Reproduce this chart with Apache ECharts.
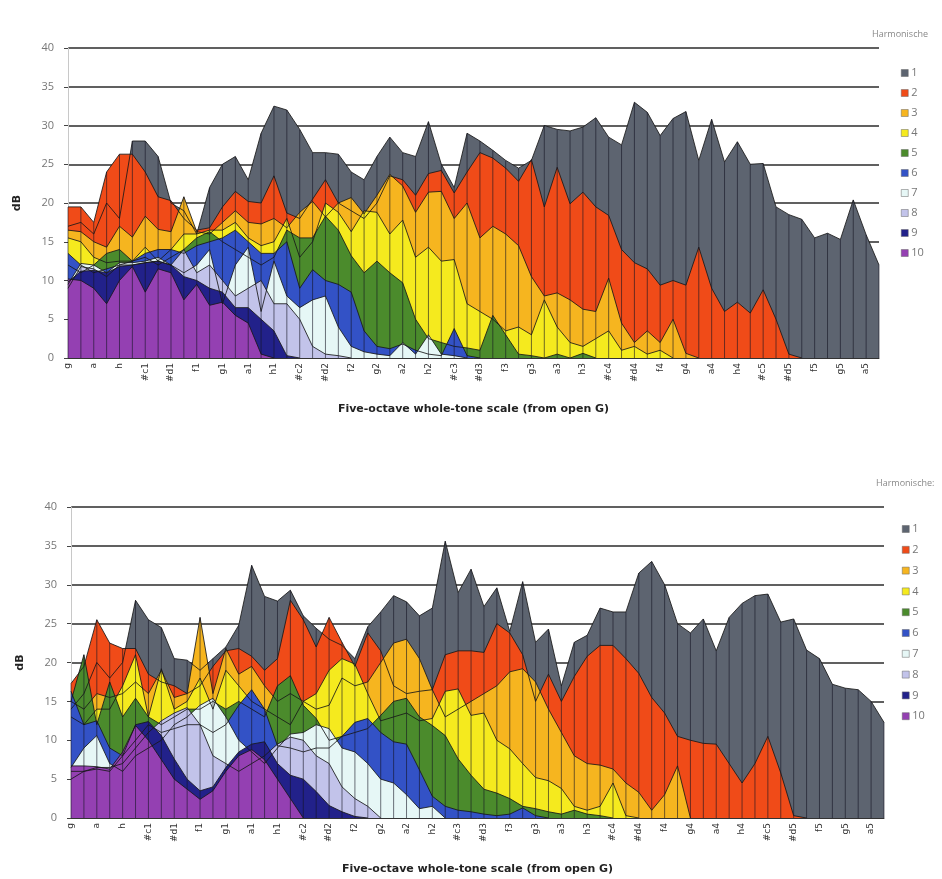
<!DOCTYPE html>
<html>
<head>
<meta charset="utf-8">
<title>Harmonische</title>
<script src="https://cdn.jsdelivr.net/npm/echarts@6/dist/echarts.min.js"></script>
<style>
    html, body {margin: 0; padding: 0; background: #fff;}
    #chart {width: 942px; height: 879px;}
</style>
</head>
<body>
<div id="chart"></div>
<script>
    // chromatic steps from open G, only the whole tones get a label
    var notes = [
        'g', '#g', 'a', '#a', 'h', 'c1', '#c1', 'd1', '#d1', 'e1', 'f1', '#f1',
        'g1', '#g1', 'a1', '#a1', 'h1', 'c2', '#c2', 'd2', '#d2', 'e2', 'f2', '#f2',
        'g2', '#g2', 'a2', '#a2', 'h2', 'c3', '#c3', 'd3', '#d3', 'e3', 'f3', '#f3',
        'g3', '#g3', 'a3', '#a3', 'h3', 'c4', '#c4', 'd4', '#d4', 'e4', 'f4', '#f4',
        'g4', '#g4', 'a4', '#a4', 'h4', 'c5', '#c5', 'd5', '#d5', 'e5', 'f5', '#f5',
        'g5', '#g5', 'a5', '#a5'
    ];
    var harmonics = ['1', '2', '3', '4', '5', '6', '7', '8', '9', '10'];
    var yTicks = [0, 5, 10, 15, 20, 25, 30, 35, 40];
    var colors = ['#5d6470', '#f04b18', '#f6b51f', '#f5ea1e', '#4b8b2c',
        '#3352c6', '#e6f7f6', '#c2c3ea', '#22218a', '#9440b2'];

    // upper chart (dB per harmonic)
    var topH1 = [17, 17.5, 16, 20, 18, 28, 28, 26, 20, 19, 16, 22, 25, 26, 23, 29, 32.5, 32, 29.5, 26.5,
        26.5, 26.3, 24, 23, 26, 28.5, 26.5, 26, 30.5, 25, 22, 29, 28, 26.8, 25.5, 24.5, 25.5, 30, 29.5, 29.3,
        29.8, 31, 28.5, 27.5, 33, 31.7, 28.7, 30.9, 31.8, 25.5, 30.8, 25.3, 27.9, 25, 25.1, 19.5, 18.5, 17.9, 15.5, 16.1,
        15.3, 20.4, 15.9, 12];
    var topH2 = [19.5, 19.5, 17.5, 24, 26.3, 26.3, 24, 20.8, 20.3, 18, 16.5, 16.8, 19.5, 21.5, 20.2, 20, 23.5, 18.7, 18, 20.5,
        23, 20, 19, 18, 20, 23.5, 23, 21, 23.8, 24.2, 21.3, 24, 26.5, 25.8, 24.5, 22.8, 25.6, 19.5, 24.6, 19.9,
        21.4, 19.5, 18.4, 14, 12.3, 11.5, 9.4, 10, 9.4, 14.3, 9, 6, 7.2, 5.8, 8.8, 5, 0.5, 0];
    var topH3 = [16.5, 16.3, 15, 14.3, 17, 15.6, 18.3, 16.6, 16.3, 20.8, 16.3, 16, 17.5, 19, 17.5, 17.3, 18, 16.8, 18.8, 20.2,
        18.2, 20, 20.7, 18.6, 21, 23.7, 22.2, 18.8, 21.4, 21.5, 18, 20, 15.5, 17, 16, 14.5, 10.5, 8, 8.4, 7.5,
        6.3, 6, 10.3, 4.5, 2, 3.5, 2, 5, 0.6, 0];
    var topH4 = [15.5, 15, 13, 12.3, 12.5, 12.5, 14.3, 12.5, 14, 16, 16, 16.5, 16.5, 17.5, 15.5, 14.5, 15, 18, 13, 15,
        20, 18.8, 16.3, 19, 18.8, 16, 17.8, 13, 14.3, 12.5, 12.7, 7, 6, 5, 3.5, 4, 3, 7.5, 4, 2,
        1.5, 2.5, 3.5, 1, 1.5, 0.5, 1, 0];
    var topH5 = [12, 11, 12, 13.5, 14, 12.5, 13, 12, 13, 14, 15.5, 16.3, 15, 14, 13, 12, 13, 16.5, 15.5, 15.5,
        18.3, 16.5, 13.2, 11, 12.5, 11, 9.7, 5, 2.5, 2, 1.5, 1.3, 1, 5.5, 3, 0.5, 0.3, 0, 0.5, 0,
        0.6, 0];
    var topH6 = [13.5, 12, 11, 11.5, 12, 12.5, 13.5, 14, 14, 13.5, 14.5, 15, 15.5, 16.5, 15, 13.5, 13.5, 15, 9, 11.4,
        10, 9.5, 8.5, 3.5, 1.5, 1.2, 1.8, 1, 0.5, 0.3, 3.8, 0.3, 0];
    var topH7 = [9.5, 12.2, 12, 11, 12.3, 12.3, 12.5, 13, 12, 11, 12, 14, 7, 12, 14.3, 6, 12.5, 8, 6.5, 7.5,
        8, 4, 1.5, 0.8, 0.5, 0.3, 2, 0.5, 3, 0.5, 0.3, 0];
    var topH8 = [9, 11.8, 11.5, 10.5, 12, 12, 12.3, 12.5, 12, 14, 11, 12, 10, 8, 9, 10, 7, 7, 5, 1.5,
        0.5, 0.3, 0];
    var topH9 = [9.8, 11.2, 11.3, 11, 11.8, 12, 12.3, 12.5, 12, 10.5, 10, 9, 8.5, 6.5, 6.5, 5, 3.5, 0.3, 0];
    var topH10 = [10.2, 10, 9, 7, 10, 11.8, 8.5, 11.5, 11, 7.5, 9.5, 6.8, 7.2, 5.5, 4.5, 0.5, 0];

    // lower chart
    var botH1 = [14, 16, 20, 18, 20, 28, 25.5, 24.5, 20.5, 20.3, 19, 20.5, 22, 24.8, 32.5, 28.5, 27.9, 29.3, 26, 24.4,
        23, 22.2, 20.5, 24.6, 26.5, 28.6, 27.8, 26, 27, 35.6, 29, 32, 27.2, 29.6, 24, 30.4, 22.6, 24.3, 17, 22.6,
        23.5, 27, 26.5, 26.5, 31.5, 33, 30, 25, 23.8, 25.6, 21.5, 25.8, 27.6, 28.6, 28.8, 25.2, 25.6, 21.6, 20.5, 17.2,
        16.7, 16.5, 15, 12.3];
    var botH2 = [17.3, 19.5, 25.5, 22.5, 21.8, 21.8, 18.5, 17.5, 17, 16, 17, 19.5, 21.5, 21.8, 20.8, 19, 20.5, 28, 25.5, 22,
        25.8, 22.6, 19.5, 23.8, 21.5, 17, 16, 16.3, 16.5, 21, 21.5, 21.5, 21.3, 25, 23.8, 21, 15, 18.5, 15, 18.2,
        20.8, 22.2, 22.2, 20.5, 18.6, 15.5, 13.5, 10.5, 10, 9.6, 9.5, 7, 4.5, 7, 10.5, 5.8, 0.3, 0];
    var botH3 = [15, 14, 16, 15.5, 16, 17.5, 16, 19, 15.5, 16, 25.8, 16, 21.8, 18.5, 19.5, 17, 15, 16, 15, 14,
        14.5, 18, 17, 17.5, 20, 22.5, 23, 20.5, 16.5, 13, 14, 15, 16, 17, 18.8, 19.2, 17.5, 14, 11, 8,
        7, 6.8, 6.3, 4.5, 3.3, 1, 3, 6.7, 0];
    var botH4 = [13, 12, 14, 14, 17, 21, 13, 19.2, 14, 15, 18, 14, 19, 17, 15, 14, 13, 12, 15, 16,
        19, 20.5, 19.8, 16, 12.5, 13, 13.5, 12.5, 12.8, 16.3, 16.6, 13.2, 13.5, 10, 8.9, 7, 5.2, 4.8, 3.8, 1.5,
        1, 1.5, 4.5, 0.3, 0];
    var botH5 = [15, 21, 12, 17.5, 13, 15.4, 13, 12, 13, 14, 14, 15, 14, 15, 14, 13, 17, 18.3, 14.5, 12.8,
        10, 10.5, 11, 11.5, 13.2, 15, 15.4, 13, 11.9, 10.6, 7.6, 5.5, 3.7, 3.2, 2.5, 1.5, 1.2, 0.8, 0.5, 1,
        0.5, 0.3, 0];
    var botH6 = [16.3, 12, 12.5, 9, 8, 10, 12, 11, 11.5, 12, 12, 11, 12, 14.5, 16.5, 14, 9.3, 9, 8.5, 9,
        9, 10.5, 12.3, 12.8, 11, 9.8, 9.5, 6.2, 2.8, 1.5, 1, 0.8, 0.5, 0.3, 0.5, 1.3, 0.3, 0];
    var botH7 = [6.5, 9, 10.6, 7, 6, 8, 9, 10, 12, 13, 14.5, 15.4, 13, 10, 8.5, 7, 9, 10.8, 11, 12,
        11.5, 9, 8.5, 7, 5, 4.5, 3, 1.2, 1.5, 0];
    var botH8 = [6, 6, 6.5, 6.5, 7, 9, 11, 12.5, 13.5, 14.2, 12, 8, 7, 6, 7, 8, 9.5, 10.4, 10, 8,
        7, 4, 2.5, 1.5, 0];
    var botH9 = [5, 6, 6.3, 6, 8, 12, 12.4, 10.6, 7.6, 5, 3.5, 4, 6.5, 8.5, 9.5, 9.8, 7, 5.5, 5, 3.4,
        1.6, 0.8, 0.2, 0];
    var botH10 = [6.7, 6.7, 6.6, 6.3, 8.5, 11.9, 10, 7.5, 5, 3.7, 2.4, 3.5, 6, 8, 8.8, 7.5, 5, 2.5, 0];

    var topSet = [topH1, topH2, topH3, topH4, topH5, topH6, topH7, topH8, topH9, topH10];
    var botSet = [botH1, botH2, botH3, botH4, botH5, botH6, botH7, botH8, botH9, botH10];

    // highest value per step, used for the dark drop lines
    function envelope(list) {
        var out = [];
        for (var i = 0; i < notes.length; i++) {
            var m = 0;
            list.forEach(function (s) {
                if (s[i] != null && s[i] > m) m = s[i];
            });
            out.push(m);
        }
        return out;
    }

    function areaSeries(idx, values, axis) {
        return {
            name: harmonics[idx],
            type: 'line',
            xAxisIndex: axis,
            yAxisIndex: axis,
            data: values,
            symbol: 'none',
            silent: true,
            color: colors[idx],
            itemStyle: {color: colors[idx]},
            lineStyle: {color: 'rgba(25,25,25,0.85)', width: 1},
            areaStyle: {color: colors[idx], opacity: 1},
            z: 2
        };
    }

    function dropLines(list, axis) {
        return {
            type: 'bar',
            xAxisIndex: axis,
            yAxisIndex: axis,
            data: envelope(list),
            barWidth: 1,
            silent: true,
            itemStyle: {color: 'rgba(20,20,35,0.6)'},
            z: 3
        };
    }

    function xAxisFor(grid) {
        return {
            type: 'category',
            gridIndex: grid,
            data: notes,
            boundaryGap: false,
            name: 'Five-octave whole-tone scale (from open G)',
            nameLocation: 'middle',
            nameGap: 46,
            nameTextStyle: {fontFamily: 'DejaVu Sans', fontWeight: 'bold', fontSize: 11, color: '#222'},
            axisLine: {lineStyle: {color: '#333', width: 1}},
            axisTick: {show: false},
            axisLabel: {
                interval: 1, rotate: 90, margin: 5,
                fontFamily: 'DejaVu Sans', fontSize: 9, color: '#333'
            },
            splitLine: {show: false}
        };
    }

    function yAxisFor(grid) {
        return {
            type: 'value',
            gridIndex: grid,
            min: yTicks[0],
            max: yTicks[yTicks.length - 1],
            interval: 5,
            name: 'dB',
            nameLocation: 'middle',
            nameRotate: 90,
            nameGap: 45,
            nameTextStyle: {fontFamily: 'DejaVu Sans', fontWeight: 'bold', fontSize: 11, color: '#222'},
            axisLine: {show: true, lineStyle: {color: '#c8c8c8'}},
            axisTick: {show: true, length: 4, lineStyle: {color: '#444'}},
            axisLabel: {margin: 14, fontFamily: 'Open Sans', fontSize: 11, color: '#777'},
            splitLine: {lineStyle: {color: '#2b2b2b', width: 1.5}}
        };
    }

    function legendAt(top, left, gap) {
        return {
            data: harmonics,
            orient: 'vertical',
            top: top,
            left: left,
            icon: 'rect',
            itemWidth: 7,
            itemHeight: 7,
            itemGap: gap,
            padding: 0,
            selectedMode: false,
            itemStyle: {borderColor: '#666', borderWidth: 0.5},
            textStyle: {fontFamily: 'Open Sans', fontSize: 11, lineHeight: 14, color: '#777', padding: [0, 0, 0, -2]}
        };
    }

    var series = [];
    topSet.forEach(function (s, i) { series.push(areaSeries(i, s, 0)); });
    series.push(dropLines(topSet, 0));
    botSet.forEach(function (s, i) { series.push(areaSeries(i, s, 1)); });
    series.push(dropLines(botSet, 1));

    var option = {
        backgroundColor: '#fff',
        animation: false,
        title: [
            {text: 'Harmonische', left: 867, top: 25,
                textStyle: {fontFamily: 'Open Sans', fontSize: 9, fontWeight: 'normal', color: '#888'}},
            {text: 'Harmonische:', left: 871, top: 474,
                textStyle: {fontFamily: 'Open Sans', fontSize: 9, fontWeight: 'normal', color: '#888'}}
        ],
        legend: [legendAt(66, 901, 6), legendAt(522, 902, 6.8)],
        grid: [
            {left: 68, top: 48, width: 811, height: 310},
            {left: 71, top: 507, width: 813, height: 311}
        ],
        xAxis: [xAxisFor(0), xAxisFor(1)],
        yAxis: [yAxisFor(0), yAxisFor(1)],
        series: series
    };

    var myChart = echarts.init(document.getElementById('chart'));
    myChart.setOption(option);
</script>
</body>
</html>
